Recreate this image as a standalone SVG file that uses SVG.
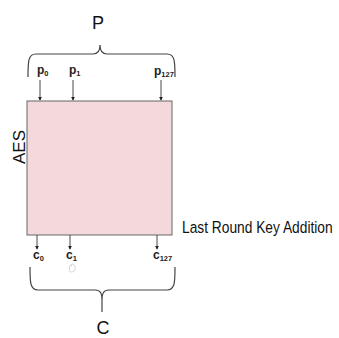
<svg xmlns="http://www.w3.org/2000/svg" width="339" height="338" viewBox="0 0 339 338">
<defs>
<marker id="ah" viewBox="0 0 6 6" refX="5" refY="3" markerWidth="4" markerHeight="4" orient="auto" markerUnits="userSpaceOnUse"><path d="M0,0 L6,3 L0,6 z" fill="#222"/></marker>
<style>
.t{font-family:"Liberation Sans",Arial,sans-serif;fill:#111}
.lbl{font-size:12px;font-weight:bold;fill:#222}
.sub{font-size:7.5px}
.big{font-size:18px}
.ar{stroke:#333;stroke-width:0.9;fill:none;marker-end:url(#ah)}
.br{stroke:#444;stroke-width:1.2;fill:none}
</style>
</defs>
<rect width="339" height="338" fill="#fff"/>
<g id="aes-box">
<rect x="27" y="101" width="145" height="134" fill="#f3d9db" stroke="#666" stroke-width="1"/>
<text class="t" x="0" y="0" font-size="17" text-anchor="middle" transform="translate(24.5,147) rotate(-90)">AES</text>
</g>
<g id="P-brace">
<path class="br" d="M28,77 C28,62 28,54 36,54 L93,54 C99,54 100,50 100,45 C100,50 101,54 107,54 L167,54 C175,54 175,62 175,77"/>
<text class="t big" x="98" y="29" text-anchor="middle">P</text>
</g>
<g id="C-brace">
<path class="br" d="M30,267 C30,282 30,290 38,290 L95,290 C101,290 102,294 102,300 L102,312 M102,300 C102,294 103,290 109,290 L167,290 C175,290 175,282 175,267"/>
<text class="t big" x="103" y="334" text-anchor="middle">C</text>
</g>
<g id="inputs">
<text class="t lbl" x="37" y="74">p<tspan class="sub" dy="2">0</tspan></text>
<text class="t lbl" x="69" y="74">p<tspan class="sub" dy="2">1</tspan></text>
<text class="t lbl" x="154" y="75">p<tspan class="sub" dy="2">127</tspan></text>
</g>
<g id="outputs">
<text class="t lbl" x="33" y="259">c<tspan class="sub" dy="2">0</tspan></text>
<text class="t lbl" x="66" y="259">c<tspan class="sub" dy="2">1</tspan></text>
<text class="t lbl" x="153" y="259">c<tspan class="sub" dy="2">127</tspan></text>
</g>
<g id="last-round-label">
<text class="t" x="0" y="0" font-size="17" transform="translate(182,233) scale(0.81,1)">Last Round Key Addition</text>
</g>
<g id="connectors">
<line class="ar" x1="40" y1="80" x2="40" y2="100"/>
<line class="ar" x1="73" y1="80" x2="73" y2="100"/>
<line class="ar" x1="161" y1="80" x2="161" y2="100"/>
<line class="ar" x1="37" y1="235" x2="37" y2="249"/>
<line class="ar" x1="70" y1="235" x2="70" y2="249"/>
<line class="ar" x1="157" y1="235" x2="157" y2="249"/>
</g>
<g id="cursor">
<path d="M69.5,271 L69.5,266 Q70.5,264.5 71.5,266 L71.5,264.5 Q72.5,263.5 73.5,264.5 L73.5,265.5 Q74.5,265 75,266.5 L75,270 Q74,272 72,272 L70.5,272 Z" fill="#fff" stroke="#bbb" stroke-width="0.6"/>
</g>
</svg>
